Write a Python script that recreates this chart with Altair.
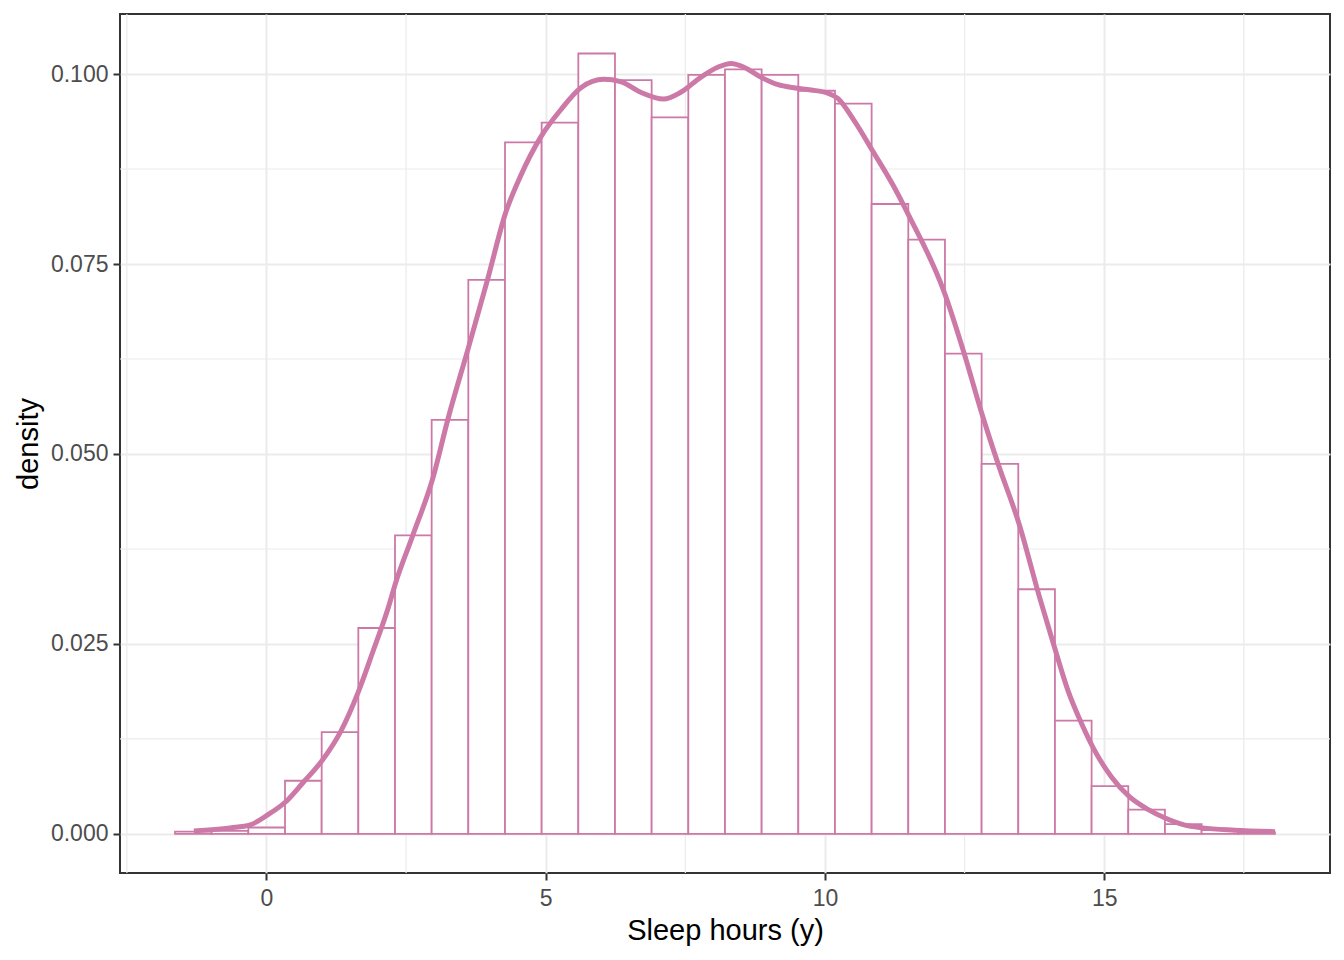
import altair as alt
import pandas as pd

# Histogram (ggplot-style, 30 bins, density scale)
bin_start = -1.638
bin_width = 0.6565
bin_density = [0.0003, 0.0004, 0.00085, 0.0070, 0.0134, 0.0271, 0.0393, 0.0545,
               0.0729, 0.0910, 0.0936, 0.1027, 0.0992, 0.0943, 0.0999, 0.1006,
               0.0999, 0.0978, 0.0961, 0.0829, 0.0782, 0.0632, 0.0487, 0.0322,
               0.0149, 0.0063, 0.0032, 0.0013, 0.0005, 0.0002]

# Kernel density curve
curve_x = [-1.3, -0.65, -0.29, 0.02, 0.34, 0.66, 1.0, 1.33, 1.65, 1.92, 2.19, 2.31,
           2.62, 2.97, 3.26, 3.62, 3.96, 4.28, 4.55, 4.91, 5.27, 5.63, 6.04, 6.34,
           6.70, 7.11, 7.42, 7.78, 8.08, 8.32, 8.55, 8.85, 9.16, 9.44, 9.75, 10.05,
           10.23, 10.52, 10.86, 11.24, 11.5, 12.13, 12.49, 12.81, 13.1, 13.48, 13.84,
           14.1, 14.35, 14.59, 14.82, 15.13, 15.45, 15.79, 16.09, 16.43, 16.76, 17.33, 18.06]
curve_y = [0.0004, 0.0008, 0.0012, 0.0025, 0.0042, 0.0068, 0.0097, 0.0135, 0.0188, 0.0243,
           0.0300, 0.0330, 0.0393, 0.0466, 0.0549, 0.0641, 0.0730, 0.0817, 0.0866, 0.0917,
           0.0953, 0.0982, 0.0993, 0.0990, 0.0976, 0.0967, 0.0976, 0.0996, 0.1009, 0.1014,
           0.1009, 0.0996, 0.0986, 0.0982, 0.0979, 0.0975, 0.0968, 0.0939, 0.0898, 0.0851,
           0.0814, 0.0714, 0.0633, 0.0553, 0.0487, 0.0407, 0.0312, 0.0248, 0.0189, 0.0146,
           0.0111, 0.0075, 0.0049, 0.0032, 0.0021, 0.0012, 0.0008, 0.0005, 0.0003]

x_ticks = [0, 5, 10, 15]
y_ticks = [0.0, 0.025, 0.05, 0.075, 0.1]
x_minor = [-2.5, 2.5, 7.5, 12.5, 17.5]
y_minor = [0.0125, 0.0375, 0.0625, 0.0875]

x_domain = [-2.623, 19.043]
y_domain = [-0.00514, 0.1079]

PINK = "#CC79A7"
GRID = "#EBEBEB"

hist_df = pd.DataFrame({
    "x0": [bin_start + i * bin_width for i in range(len(bin_density))],
    "x1": [bin_start + (i + 1) * bin_width for i in range(len(bin_density))],
    "density": bin_density,
})
hist_df["zero"] = 0.0
curve_df = pd.DataFrame({"x": curve_x, "density": curve_y})
xminor_df = pd.DataFrame({"x": x_minor})
yminor_df = pd.DataFrame({"y": y_minor})

xscale = alt.Scale(domain=x_domain, nice=False, zero=False)
yscale = alt.Scale(domain=y_domain, nice=False, zero=False)

xaxis = alt.Axis(
    values=x_ticks, title="Sleep hours (y)", format="d",
    grid=True, gridColor=GRID, gridWidth=2,
    domain=False, ticks=True, tickSize=7, tickColor="#333333", tickWidth=2,
    labelFont="Liberation Sans", labelFontSize=23, labelColor="#4D4D4D", labelPadding=7,
    titleFont="Liberation Sans", titleFontSize=29, titleColor="#000000",
    titleFontWeight="normal", titleY=66, titleBaseline="alphabetic",
)
yaxis = alt.Axis(
    values=y_ticks, title="density", format=".3f",
    grid=True, gridColor=GRID, gridWidth=2,
    domain=False, ticks=True, tickSize=7, tickColor="#333333", tickWidth=2,
    labelFont="Liberation Sans", labelFontSize=23, labelColor="#4D4D4D", labelPadding=5,
    titleFont="Liberation Sans", titleFontSize=29, titleColor="#000000",
    titleFontWeight="normal", titleX=-92, titleY=429.5, titleBaseline="middle", titleAngle=270,
)

minor_x = alt.Chart(xminor_df).mark_rule(color=GRID, strokeWidth=1.2).encode(
    x=alt.X("x:Q", scale=xscale, axis=xaxis)
)
minor_y = alt.Chart(yminor_df).mark_rule(color=GRID, strokeWidth=1.2).encode(
    y=alt.Y("y:Q", scale=yscale, axis=yaxis)
)

hist = alt.Chart(hist_df).mark_rect(fill="white", stroke=PINK, strokeWidth=1.8).encode(
    x=alt.X("x0:Q", scale=xscale, axis=xaxis),
    x2="x1:Q",
    y=alt.Y("density:Q", scale=yscale, axis=yaxis),
    y2="zero:Q",
)

curve = alt.Chart(curve_df).mark_line(color=PINK, strokeWidth=5, interpolate="monotone").encode(
    x=alt.X("x:Q", scale=xscale, axis=xaxis),
    y=alt.Y("density:Q", scale=yscale, axis=yaxis),
)

chart = alt.layer(minor_x, minor_y, hist, curve).properties(
    width=1210, height=859,
    autosize=alt.AutoSizeParams(type="none"),
    padding={"left": 112, "top": 6, "right": 6, "bottom": 78},
    background="white",
).configure_view(
    stroke="#333333", strokeWidth=2
)

chart.save("out.html", embed_options={"renderer": "svg", "actions": False})
